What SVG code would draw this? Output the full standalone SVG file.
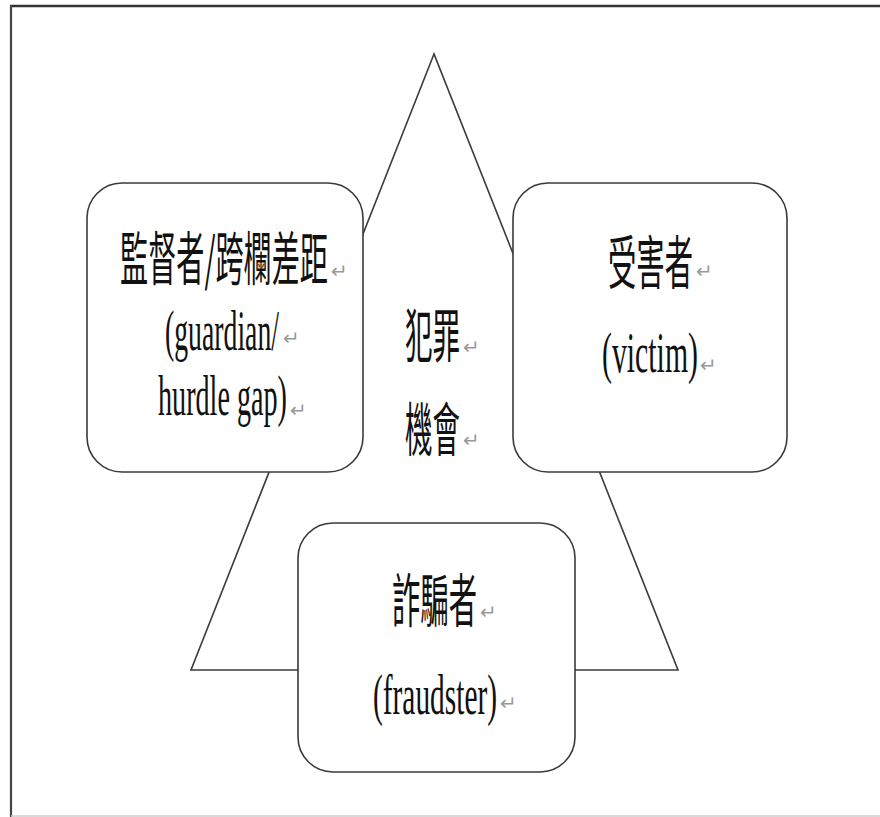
<svg xmlns="http://www.w3.org/2000/svg" width="880" height="817" viewBox="0 0 880 817">
<style>
.shape{fill:#fff;stroke:#3a3a3a;stroke-width:1.6}
.cjk{font-family:"Noto Sans CJK TC","Noto Sans CJK SC",sans-serif;font-size:58px;fill:#111}
.lat{font-family:"Liberation Serif","Times New Roman",serif;font-size:58px;fill:#111}
.pm{font-family:"DejaVu Sans",sans-serif;font-size:20px;fill:#999}
</style>
<rect x="0" y="0" width="880" height="817" fill="#fff"/>
<g id="frame">
<line x1="10" y1="6" x2="880" y2="6" stroke="#333" stroke-width="2.5"/>
<line x1="11" y1="5" x2="11" y2="817" stroke="#444" stroke-width="2.2"/>
<line x1="11" y1="816" x2="880" y2="816" stroke="#ccc" stroke-width="1.5"/>
</g>
<g id="triangle">
<polygon class="shape" points="434,54 191,670 678,670"/>
<text class="cjk" x="405" y="357"><tspan textLength="55" lengthAdjust="spacingAndGlyphs">犯罪</tspan><tspan class="pm" dx="3" dy="-3">↵</tspan></text>
<text class="cjk" x="405" y="451"><tspan textLength="55" lengthAdjust="spacingAndGlyphs">機會</tspan><tspan class="pm" dx="3" dy="-4">↵</tspan></text>
</g>
<g id="connectors"></g>
<g id="guardian">
<rect class="shape" x="87" y="183" width="276" height="289" rx="35" ry="35"/>
<text class="cjk" x="120" y="280"><tspan textLength="208" lengthAdjust="spacingAndGlyphs">監督者/跨欄差距</tspan><tspan class="pm" dx="3" dy="-2">↵</tspan></text>
<text class="lat" x="165" y="350"><tspan textLength="114" lengthAdjust="spacingAndGlyphs">(guardian/</tspan><tspan class="pm" dx="4" dy="-5">↵</tspan></text>
<text class="lat" x="158" y="415"><tspan textLength="129" lengthAdjust="spacingAndGlyphs">hurdle gap)</tspan><tspan class="pm" dx="3" dy="2">↵</tspan></text>
</g>
<g id="victim">
<rect class="shape" x="513" y="183" width="274" height="289" rx="35" ry="35"/>
<text class="cjk" x="608" y="284"><tspan textLength="85" lengthAdjust="spacingAndGlyphs">受害者</tspan><tspan class="pm" dx="3" dy="-6">↵</tspan></text>
<text class="lat" x="602" y="372"><tspan textLength="96" lengthAdjust="spacingAndGlyphs">(victim)</tspan><tspan class="pm" dx="2" dy="0">↵</tspan></text>
</g>
<g id="fraudster">
<rect class="shape" x="298" y="523" width="277" height="249" rx="35" ry="35"/>
<text class="cjk" x="392" y="622"><tspan textLength="85" lengthAdjust="spacingAndGlyphs">詐騙者</tspan><tspan class="pm" dx="3" dy="-3">↵</tspan></text>
<text class="lat" x="373" y="714"><tspan textLength="124" lengthAdjust="spacingAndGlyphs">(fraudster)</tspan><tspan class="pm" dx="3" dy="-4">↵</tspan></text>
</g>
</svg>
